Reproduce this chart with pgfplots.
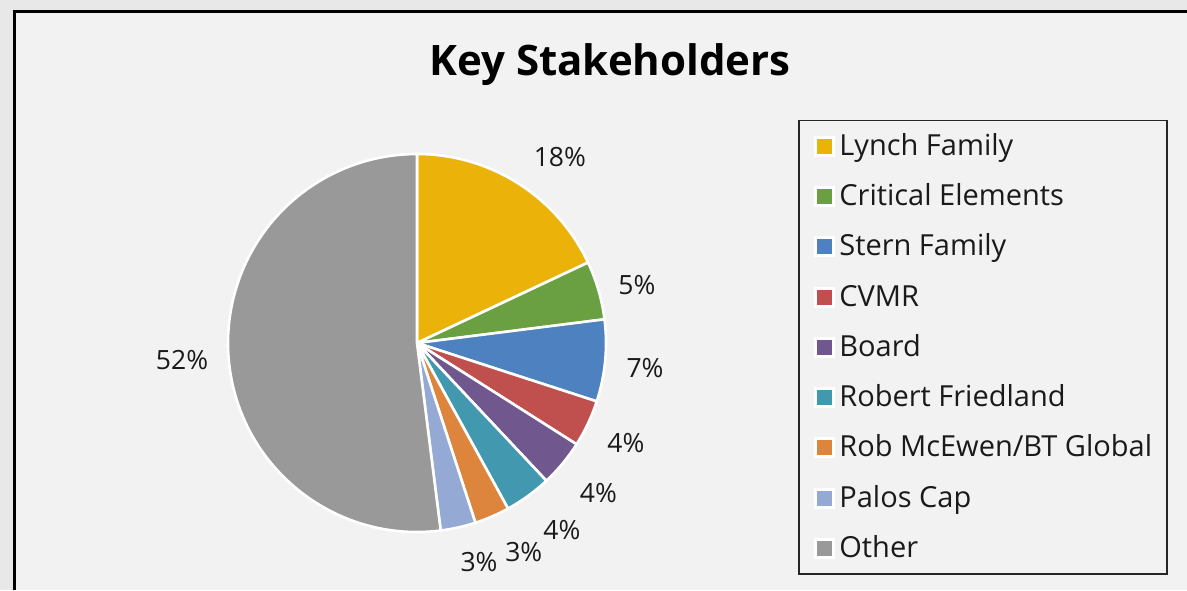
\documentclass[border=0pt]{standalone}
\usepackage{pgfplots}
\usepackage{pgfplotstable}
\pgfplotsset{compat=1.18}
\usepackage{fontspec}
\setmainfont{Open Sans}

% slice colours
\definecolor{slice0}{HTML}{EBB20A}
\definecolor{slice1}{HTML}{6AA042}
\definecolor{slice2}{HTML}{4E81BF}
\definecolor{slice3}{HTML}{C0504D}
\definecolor{slice4}{HTML}{70588E}
\definecolor{slice5}{HTML}{4299AF}
\definecolor{slice6}{HTML}{DD853D}
\definecolor{slice7}{HTML}{94A9D3}
\definecolor{slice8}{HTML}{999999}
\definecolor{chartbg}{HTML}{F2F2F2}
\definecolor{pagebg}{HTML}{E8E8E8}
\definecolor{txt}{HTML}{1A1A1A}

% value in %, label angle (deg) and label distance (px)
\pgfplotstableread[col sep=comma,row sep=\\]{
name,value,langle,lrad\\
Lynch Family,18,52.4,234.2\\
Critical Elements,5,14.8,227.5\\
Stern Family,7,-6.3,229.4\\
CVMR,4,-25.5,231.5\\
Board,4,-39.5,235.1\\
Robert Friedland,4,-52.3,237.0\\
Rob McEwen/BT Global,3,-62.9,234.5\\
Palos Cap,3,-74.2,227.9\\
Other,52,184.1,235.6\\
}\piedata

\begin{document}
\begin{tikzpicture}
\useasboundingbox (0,0) rectangle (1187pt,590pt);
\fill[pagebg] (0,0) rectangle (1187pt,590pt);
\fill[chartbg] (14.5pt,0) rectangle (1187pt,578.8pt);
\draw[black, line width=2.8pt] (14.5pt,0) -- (14.5pt,578.8pt) -- (1187pt,578.8pt);

% cumulative angles, clockwise from 12 o'clock
\def\cum{90}%
\pgfplotsforeachungrouped \i in {0,...,8}{%
  \pgfplotstablegetelem{\i}{value}\of\piedata
  \expandafter\xdef\csname pv\i\endcsname{\pgfplotsretval}%
  \pgfmathsetmacro\endA{\cum-3.6*\pgfplotsretval}%
  \expandafter\xdef\csname sA\i\endcsname{\cum}%
  \expandafter\xdef\csname eA\i\endcsname{\endA}%
  \xdef\cum{\endA}%
  \pgfplotstablegetelem{\i}{langle}\of\piedata
  \expandafter\xdef\csname lA\i\endcsname{\pgfplotsretval}%
  \pgfplotstablegetelem{\i}{lrad}\of\piedata
  \expandafter\xdef\csname lR\i\endcsname{\pgfplotsretval}%
  \pgfplotstablegetelem{\i}{name}\of\piedata
  \expandafter\xdef\csname nm\i\endcsname{\pgfplotsretval}%
}

\begin{axis}[
    at={(0pt,0pt)}, anchor=south west,
    x=1pt, y=1pt,
    xmin=0, xmax=1187, ymin=0, ymax=590,
    hide axis, clip=false,
    legend image code/.code={\draw[#1] (0pt,-9pt) rectangle (18pt,9pt);},
    legend cell align=left,
    legend style={
        at={(0.67254,0.79661)}, anchor=north west,
        draw=black!85, line width=1.3pt, fill=none,
        inner xsep=14.9pt, inner ysep=14.5pt,
        column sep=4.5pt, row sep=28.3pt,
        font=\fontsize{29}{32}\selectfont\color{txt},
        nodes={inner sep=0pt, text height=20pt, text depth=2pt},
    },
]
\pgfplotsinvokeforeach{0,...,8}{
  \fill[slice#1, draw=white, line width=2.6pt, line join=round]
    (axis cs:417,247) -- ([shift={(\csname sA#1\endcsname:189pt)}]axis cs:417,247)
    arc[start angle=\csname sA#1\endcsname, end angle=\csname eA#1\endcsname, radius=189pt]
    -- cycle;
  \node[text=txt, font=\fontsize{26.5}{30}\selectfont]
    at ([shift={(\csname lA#1\endcsname:\csname lR#1\endcsname pt)}]axis cs:417,247)
    {\csname pv#1\endcsname\%};
  \addlegendimage{fill=slice#1, draw=white, line width=3pt}
  \addlegendentry{\csname nm#1\endcsname}
}
\node[anchor=base, font=\fontsize{42}{48}\selectfont\bfseries]
  at (axis cs:610,514) {Key Stakeholders};
\end{axis}
\end{tikzpicture}
\end{document}
